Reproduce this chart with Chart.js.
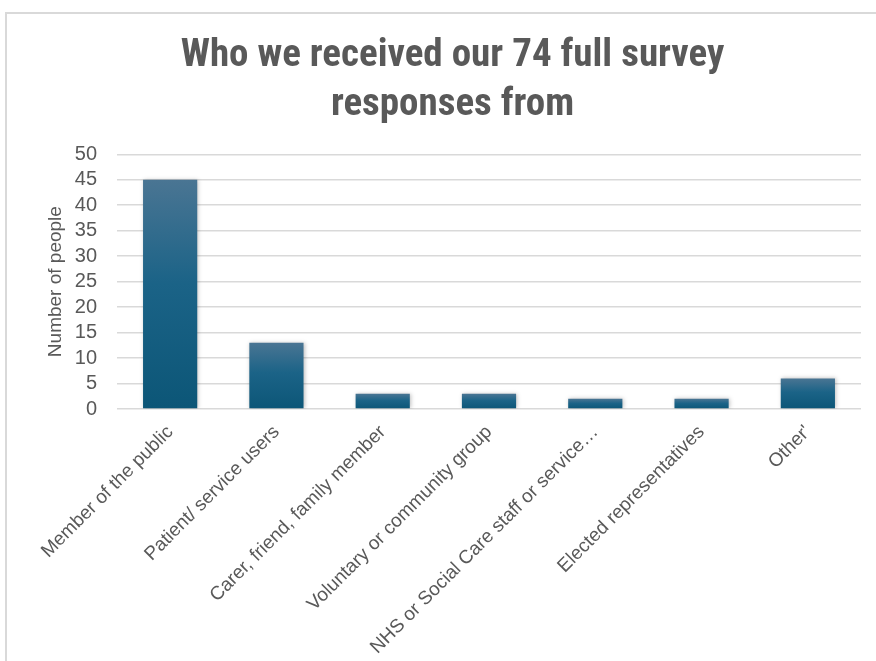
<!DOCTYPE html>
<html>
<head>
<meta charset="utf-8">
<script src="https://cdn.jsdelivr.net/npm/chart.js@4/dist/chart.umd.min.js"></script>
<style>
  html, body { margin: 0; padding: 0; background: #fff; overflow: hidden; width: 876px; height: 661px; }
  #frame { position: absolute; left: 5px; top: 12px; width: 900px; height: 660px; border: 2px solid #d9d9d9; box-sizing: border-box; }
  #wrap { position: absolute; left: 0; top: 0; width: 904px; height: 661px; }
</style>
</head>
<body>
<div id="frame"></div>
<div id="wrap"><canvas id="c" width="904" height="661"></canvas></div>
<script>
const titleLines = ["Who we received our 74 full survey", "responses from"];
const categories = [
  "Member of the public",
  "Patient/ service users",
  "Carer, friend, family member",
  "Voluntary or community group",
  "NHS or Social Care staff or service\u2026",
  "Elected representatives",
  "Other'"
];
const values = [45, 13, 3, 3, 2, 2, 6];
const yTitle = "Number of people";
const yMin = 0, yMax = 50, yStep = 5;

const TEXT = "#595959";
const PADL = 44;

function barGradient(ctx) {
  const chart = ctx.chart;
  const ca = chart.chartArea;
  if (!ca || ctx.type !== 'data') return "#1a6387";
  const ys = chart.scales.y;
  const top = ys.getPixelForValue(ctx.parsed.y);
  const bottom = ys.getPixelForValue(0);
  const g = chart.ctx.createLinearGradient(0, top, 0, bottom);
  g.addColorStop(0, "#4a7593");
  g.addColorStop(0.45, "#1b6387");
  g.addColorStop(1, "#0c5677");
  return g;
}

const shadowPlugin = {
  id: 'barShadow',
  beforeDatasetsDraw(chart) {
    const c = chart.ctx;
    c.save();
    c.shadowColor = "rgba(0,0,0,0.25)";
    c.shadowBlur = 4;
    c.shadowOffsetX = 1;
    c.shadowOffsetY = 0;
  },
  afterDatasetsDraw(chart) {
    chart.ctx.restore();
  }
};

new Chart(document.getElementById('c'), {
  type: 'bar',
  data: {
    labels: categories,
    datasets: [{
      data: values,
      backgroundColor: barGradient,
      borderWidth: 0,
      categoryPercentage: 1,
      barPercentage: 0.51
    }]
  },
  plugins: [shadowPlugin],
  options: {
    responsive: false,
    animation: false,
    devicePixelRatio: 1,
    layout: { padding: { left: PADL, right: 43, top: 0, bottom: 6 } },
    plugins: {
      legend: { display: false },
      tooltip: { enabled: false },
      title: {
        display: true,
        text: titleLines,
        color: TEXT,
        font: { family: "'Liberation Sans Narrow', 'Roboto Condensed', 'Liberation Sans', sans-serif", size: 39, weight: 'bold', lineHeight: 1.26 },
        padding: { top: 32, bottom: 24 }
      }
    },
    scales: {
      x: {
        grid: { display: false, drawTicks: false },
        border: { display: false },
        ticks: {
          color: TEXT,
          font: { family: "'Liberation Sans', Arial, sans-serif", size: 19 },
          minRotation: 45,
          maxRotation: 45,
          autoSkip: false,
          padding: 12
        },
        afterFit(scale) { scale.height = 661 - 409 - 6; }
      },
      y: {
        min: yMin,
        max: yMax,
        ticks: {
          stepSize: yStep,
          autoSkip: false,
          color: TEXT,
          font: { family: "'Liberation Sans', Arial, sans-serif", size: 20 },
          padding: 20
        },
        grid: { color: "#d9d9d9", lineWidth: 1.5, drawTicks: false },
        border: { display: false },
        title: {
          display: true,
          text: yTitle,
          color: TEXT,
          font: { family: "'Liberation Sans', Arial, sans-serif", size: 19 },
          padding: { top: 0, bottom: 0 }
        },
        afterFit(scale) { scale.width = 117 - PADL; }
      }
    }
  }
});
</script>
</body>
</html>
